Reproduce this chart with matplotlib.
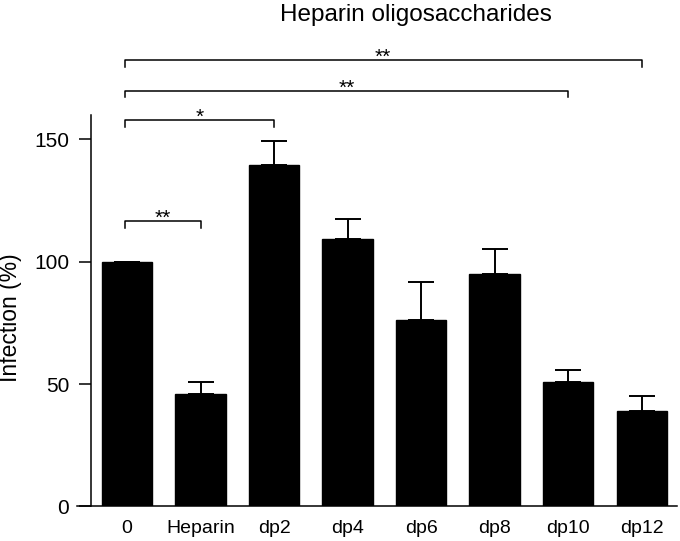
import matplotlib.pyplot as plt
import numpy as np

plt.rcParams['font.family'] = ['Liberation Sans', 'DejaVu Sans']

grupos = ['0', 'Heparin', 'dp2', 'dp4', 'dp6', 'dp8', 'dp10', 'dp12']
infeccion = [100, 45.8, 139.5, 109.1, 76.2, 94.8, 51.0, 39.0]
error = [0, 5.2, 9.8, 8.3, 15.6, 10.3, 4.8, 6.1]

# comparaciones: (grupo a, grupo b, altura, texto)
comparaciones = [(0, 1, 116.7, '**'),
                 (0, 2, 157.9, '*'),
                 (0, 6, 169.9, '**'),
                 (0, 7, 182.4, '**')]

fig = plt.figure(figsize=(6.8, 5.41), dpi=100)
ax = fig.add_axes([0.1334, 0.0638, 0.8622, 0.724])

x = np.arange(len(grupos))
ax.bar(x, infeccion, width=0.685, color='black', edgecolor='black')
ax.errorbar(x, infeccion, yerr=[np.zeros(len(x)), error], fmt='none',
            ecolor='black', elinewidth=1.4, capsize=9.5, capthick=1.4)

ax.set_xlim(-0.493, 7.48)
ax.set_ylim(0, 160)
ax.set_yticks([0, 50, 100, 150])
ax.set_xticks(x)
ax.set_xticklabels(grupos)
ax.tick_params(axis='y', length=8.4, width=1.1, labelsize=15, pad=7)
ax.tick_params(axis='x', length=0, labelsize=14, pad=9.5)
ax.spines['top'].set_visible(False)
ax.spines['right'].set_visible(False)
ax.spines['left'].set_linewidth(1.1)
ax.spines['bottom'].set_linewidth(1.1)
ax.spines['bottom'].set_bounds(-0.68, 7.48)

ax.set_ylabel('Infection (%)', fontsize=16.5)
ax.yaxis.set_label_coords(-0.118, 0.481)

for a, b, h, txt in comparaciones:
    xa = x[a] - 0.03
    xb = x[b]
    ax.plot([xa, xa, xb, xb], [h - 2.8, h, h, h - 2.8], color='black',
            lw=1.1, clip_on=False)
    ax.text((xa + xb) / 2, h - 1.3, txt, ha='center', va='baseline',
            fontsize=15, clip_on=False)

fig.text(0.611, 0.9935, 'Heparin oligosaccharides', ha='center', va='top',
         fontsize=17.5)

plt.savefig('out.png', dpi=100)
